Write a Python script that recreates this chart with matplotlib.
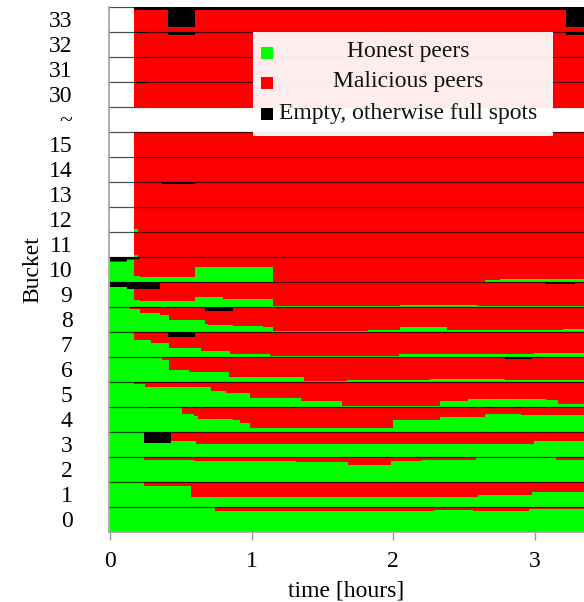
import matplotlib
matplotlib.use("Agg")
import matplotlib.pyplot as plt
from matplotlib.patches import Rectangle

plt.rcParams['font.family'] = ['Liberation Serif', 'DejaVu Serif']
plt.rcParams['font.size'] = 17

# Bucket occupancy over time: step breakpoints (hours), fraction of honest
# peers and fraction of empty slots; the rest of each bucket is malicious.
T_END = 3.4

t_b0 = [0, 0.74, 2.29, 2.56, 2.96]
honest_b0 = [1.0, 0.84, 0.88, 0.84, 0.92]
empty_b0 = [0, 0, 0, 0, 0]

t_b1 = [0, 0.24, 0.57, 2.6, 2.98]
honest_b1 = [1.0, 0.84, 0.39, 0.48, 0.6]
empty_b1 = [0, 0, 0, 0, 0]

t_b2 = [0, 0.24, 0.59, 1.31, 1.68, 1.98, 2.2, 2.58, 3.15]
honest_b2 = [1.0, 0.88, 0.84, 0.8, 0.68, 0.81, 0.88, 1.0, 0.88]
empty_b2 = [0, 0, 0, 0, 0, 0, 0, 0, 0]

t_b3 = [0, 0.24, 0.43, 0.61, 2.99]
honest_b3 = [1.0, 0.55, 0.61, 0.52, 0.64]
empty_b3 = [0, 0.45, 0, 0, 0]

t_b4 = [0, 0.26, 0.51, 0.59, 0.62, 0.87, 0.92, 0.99, 2.0, 2.33, 2.65, 2.9]
honest_b4 = [1.0, 0.95, 0.71, 0.61, 0.52, 0.48, 0.35, 0.14, 0.48, 0.57, 0.72, 0.68]
empty_b4 = [0, 0, 0, 0, 0, 0, 0, 0, 0, 0, 0, 0]

t_b5 = [0, 0.17, 0.25, 0.71, 0.82, 0.99, 1.35, 1.64, 2.33, 2.53, 3.08, 3.16]
honest_b5 = [1.0, 0.92, 0.77, 0.64, 0.55, 0.35, 0.21, 0.04, 0.24, 0.32, 0.28, 0.1]
empty_b5 = [0, 0, 0, 0, 0, 0, 0, 0, 0, 0, 0, 0]

t_b6 = [0, 0.29, 0.37, 0.42, 0.56, 0.84, 1.37, 1.67, 2.26, 2.79, 2.98]
honest_b6 = [1.0, 0.95, 0.88, 0.45, 0.37, 0.19, 0.02, 0.08, 0.12, 0.08, 0.08]
empty_b6 = [0, 0, 0, 0, 0, 0, 0, 0, 0, 0.08, 0]

t_b7 = [0, 0.17, 0.29, 0.41, 0.42, 0.6, 0.64, 0.85, 1.13, 1.75, 2.04, 2.99]
honest_b7 = [1.0, 0.65, 0.55, 0.55, 0.33, 0.33, 0.24, 0.09, 0.02, 0.04, 0.12, 0.16]
empty_b7 = [0, 0, 0, 0.2, 0.2, 0, 0, 0, 0, 0, 0, 0]

t_b8 = [0, 0.14, 0.21, 0.35, 0.42, 0.67, 0.69, 0.87, 1.08, 1.15, 1.82, 2.05, 2.38, 3.2]
honest_b8 = [0.97, 0.9, 0.75, 0.68, 0.48, 0.32, 0.27, 0.24, 0.17, 0.03, 0.06, 0.17, 0.08, 0.12]
empty_b8 = [0, 0.05, 0.05, 0, 0, 0.16, 0.16, 0, 0, 0, 0, 0, 0, 0]

t_b9 = [0, 0.12, 0.17, 0.21, 0.35, 0.6, 0.8, 1.15, 2.05, 2.6, 3.08, 3.28]
honest_b9 = [0.77, 0.7, 0.28, 0.21, 0.21, 0.37, 0.32, 0.03, 0.07, 0.03, 0.03, 0.03]
empty_b9 = [0.23, 0.3, 0.3, 0.3, 0, 0, 0, 0, 0, 0, 0.08, 0]

t_b10 = [0, 0.12, 0.17, 0.21, 0.35, 0.6, 1.15, 2.65, 2.75]
honest_b10 = [0.81, 0.88, 0.21, 0.19, 0.19, 0.61, 0.0, 0.07, 0.1]
empty_b10 = [0.17, 0.09, 0.07, 0.05, 0, 0, 0, 0, 0]

t_b11 = [0.17, 0.2]
honest_b11 = [0.08, 0.0]
empty_b11 = [0, 0]

t_b12 = [0.17, 0.2]
honest_b12 = [0.1, 0.0]
empty_b12 = [0, 0]

t_b13 = [0.17, 0.37, 0.6]
honest_b13 = [0, 0, 0]
empty_b13 = [0, 0.08, 0]

t_b14 = [0.17]
honest_b14 = [0]
empty_b14 = [0]

t_b15 = [0.17]
honest_b15 = [0]
empty_b15 = [0]

t_b30 = [0.17, 0.26]
honest_b30 = [0, 0]
empty_b30 = [0.04, 0]

t_b31 = [0.17, 0.26]
honest_b31 = [0, 0]
empty_b31 = [0.04, 0]

t_b32 = [0.17, 0.26, 0.41, 0.6, 3.22]
honest_b32 = [0, 0, 0, 0, 0]
empty_b32 = [0.04, 0, 0.12, 0, 0.12]

t_b33 = [0.17, 0.41, 0.6, 3.22]
honest_b33 = [0, 0, 0, 0]
empty_b33 = [0.12, 0.8, 0.12, 0.8]

bucket_labels = ['0', '1', '2', '3', '4', '5', '6', '7', '8', '9', '10',
                 '11', '12', '13', '14', '15', '~', '30', '31', '32', '33']

rows = [
    (0, t_b0, honest_b0, empty_b0), (1, t_b1, honest_b1, empty_b1),
    (2, t_b2, honest_b2, empty_b2), (3, t_b3, honest_b3, empty_b3),
    (4, t_b4, honest_b4, empty_b4), (5, t_b5, honest_b5, empty_b5),
    (6, t_b6, honest_b6, empty_b6), (7, t_b7, honest_b7, empty_b7),
    (8, t_b8, honest_b8, empty_b8), (9, t_b9, honest_b9, empty_b9),
    (10, t_b10, honest_b10, empty_b10), (11, t_b11, honest_b11, empty_b11),
    (12, t_b12, honest_b12, empty_b12), (13, t_b13, honest_b13, empty_b13),
    (14, t_b14, honest_b14, empty_b14), (15, t_b15, honest_b15, empty_b15),
    (17, t_b30, honest_b30, empty_b30), (18, t_b31, honest_b31, empty_b31),
    (19, t_b32, honest_b32, empty_b32), (20, t_b33, honest_b33, empty_b33),
]

GREEN, RED, BLACK = '#00ff00', '#ff0000', '#000000'

W, H = 584, 602
fig = plt.figure(figsize=(W / 100, H / 100), dpi=100)
ax = fig.add_axes([108.5 / W, 1 - 531.5 / H, (W - 108.5) / W, (531.5 - 7) / H])

for pos, t, honest, empty in rows:
    edges = list(t) + [T_END]
    h_top = [pos + h for h in honest]
    r_top = [pos + 1 - e for e in empty]
    ax.stairs(h_top, edges, baseline=[pos] * len(honest), fill=True,
              color=GREEN, lw=0)
    ax.stairs(r_top, edges, baseline=h_top, fill=True, color=RED, lw=0)
    ax.stairs([pos + 1] * len(empty), edges, baseline=r_top, fill=True,
              color=BLACK, lw=0)

# row separators
for y in range(1, len(bucket_labels) + 1):
    ax.axhline(y, color='black', lw=0.9, alpha=0.7, zorder=3)

ax.set_xlim(-0.01, 3.345)
ax.set_ylim(0, len(bucket_labels))
ax.set_xticks([0, 1, 2, 3])
ax.set_yticks([i + 0.5 for i in range(len(bucket_labels))])
ax.set_yticklabels(bucket_labels)
ax.tick_params(axis='y', length=0, pad=26)
ax.tick_params(axis='x', length=6, width=1, color='#999999', pad=8)
for side in ('top', 'right'):
    ax.spines[side].set_visible(False)
for side in ('left', 'bottom'):
    ax.spines[side].set_color('#a0a0a0')
    ax.spines[side].set_linewidth(1.2)
    ax.spines[side].set_zorder(4)

ax.set_xlabel('time [hours]', labelpad=6)
ax.set_ylabel('Bucket', labelpad=4)

# legend box with centred entries
def fx(px):
    return px / W

def fy(py):
    return 1 - py / H

ax.add_patch(Rectangle((fx(253), fy(136)), fx(553) - fx(253), fy(32) - fy(136),
                       transform=fig.transFigure, facecolor='white',
                       alpha=0.93, lw=0, zorder=10, clip_on=False))
entries = [('Honest peers', GREEN, 52), ('Malicious peers', RED, 82),
           ('Empty, otherwise full spots', BLACK, 113)]
for text, col, py in entries:
    ax.add_patch(Rectangle((fx(261), fy(py + 7)), 12 / W, 12 / H,
                           transform=fig.transFigure, facecolor=col,
                           lw=0, zorder=11, clip_on=False))
    ax.text(fx(408), fy(py), text, transform=fig.transFigure,
            ha='center', va='center', zorder=12, color='#111111')

fig.savefig('out.png', dpi=100)
